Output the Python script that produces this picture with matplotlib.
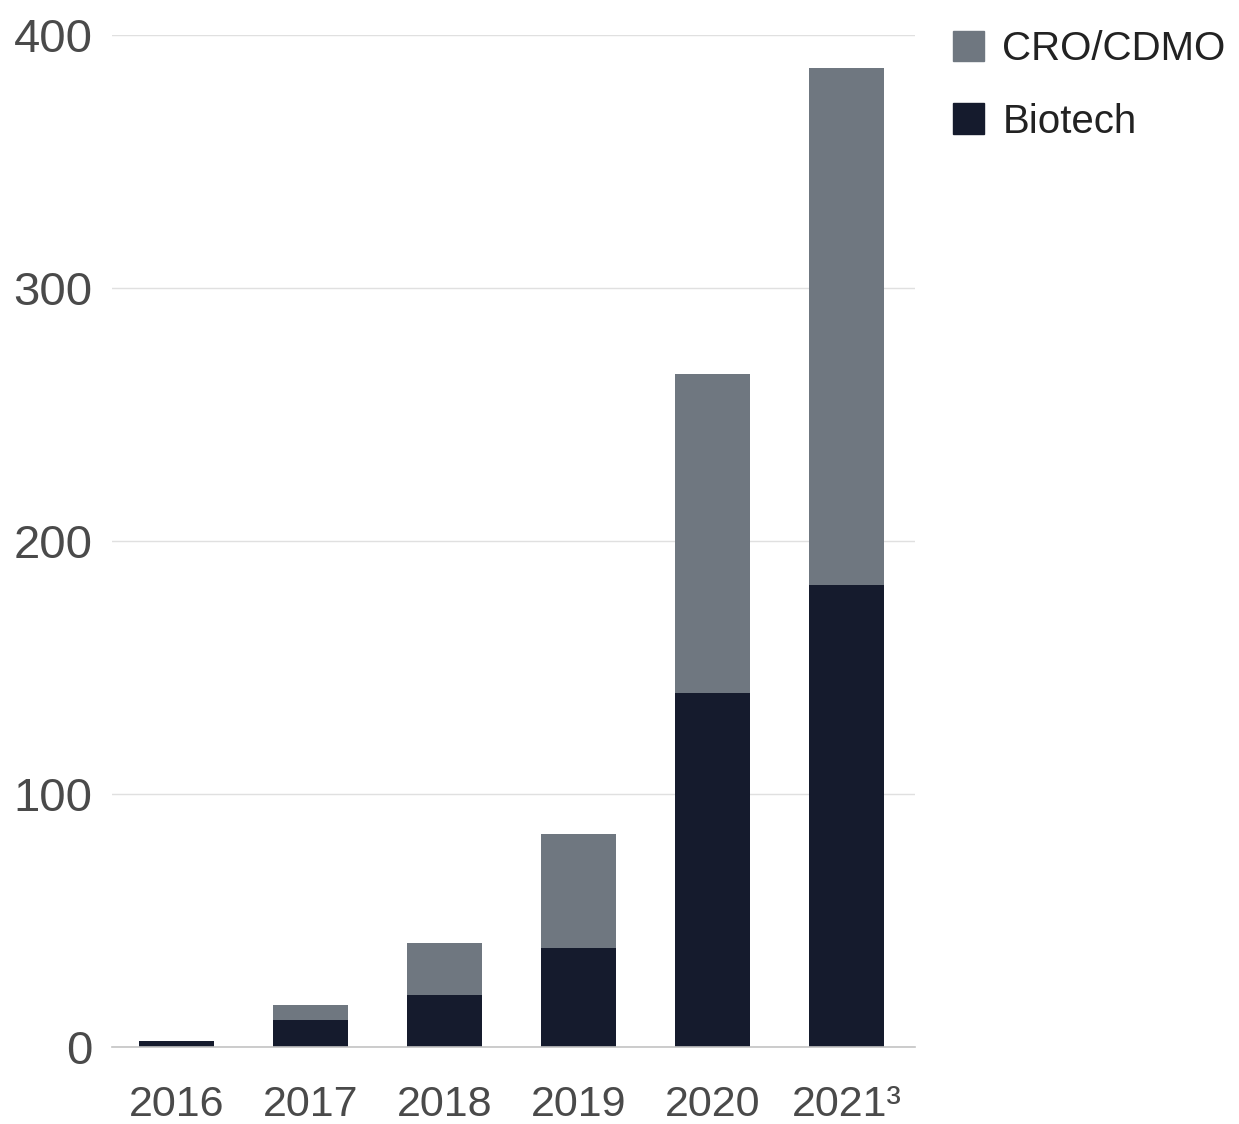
import matplotlib.pyplot as plt
import numpy as np
from matplotlib.patches import Patch

# Values
years = ['2016', '2017', '2018', '2019', '2020', '2021³']
biotech = [2.5, 10.5, 20.5, 39, 140, 182.5]
cro_cdmo = [0, 6, 20.5, 45, 126, 204.5]

biotech_color = '#151b2d'
cro_color = '#6f7780'
text_color = '#4a4a4a'

plt.rcParams['font.family'] = ['Liberation Sans', 'DejaVu Sans']

fig = plt.figure(figsize=(12.39, 11.24), dpi=100)
ax = fig.add_axes([0.0904, 0.0685, 0.6481, 0.9004])

x = np.arange(len(years))
width = 0.56
ax.bar(x, biotech, width, color=biotech_color, zorder=3)
ax.bar(x, cro_cdmo, width, bottom=biotech, color=cro_color, zorder=3)

ax.set_xlim(-0.485, 5.51)
ax.set_ylim(0, 400)
ax.set_yticks([0, 100, 200, 300, 400])
ax.set_xticks(x)
ax.set_xticklabels(years)
ax.tick_params(axis='both', length=0, colors=text_color)
ax.tick_params(axis='y', pad=14, labelsize=34)
ax.tick_params(axis='x', pad=27, labelsize=31)

ax.grid(axis='y', color='#e0e0e0', linewidth=1, zorder=0)
for side in ['top', 'right', 'left']:
    ax.spines[side].set_visible(False)
ax.spines['bottom'].set_color('#c4c4c4')
ax.spines['bottom'].set_linewidth(1.2)
ax.spines['bottom'].set_zorder(4)

handles = [Patch(color=cro_color, label='CRO/CDMO'),
           Patch(color=biotech_color, label='Biotech')]
fig.legend(handles=handles, loc='upper left', bbox_to_anchor=(0.769, 0.973),
           frameon=False, fontsize=29, handlelength=0.78, handleheight=0.78,
           handletextpad=0.45, labelspacing=0.85, borderpad=0,
           borderaxespad=0, labelcolor='#222222')

fig.savefig('out.png', dpi=100)
